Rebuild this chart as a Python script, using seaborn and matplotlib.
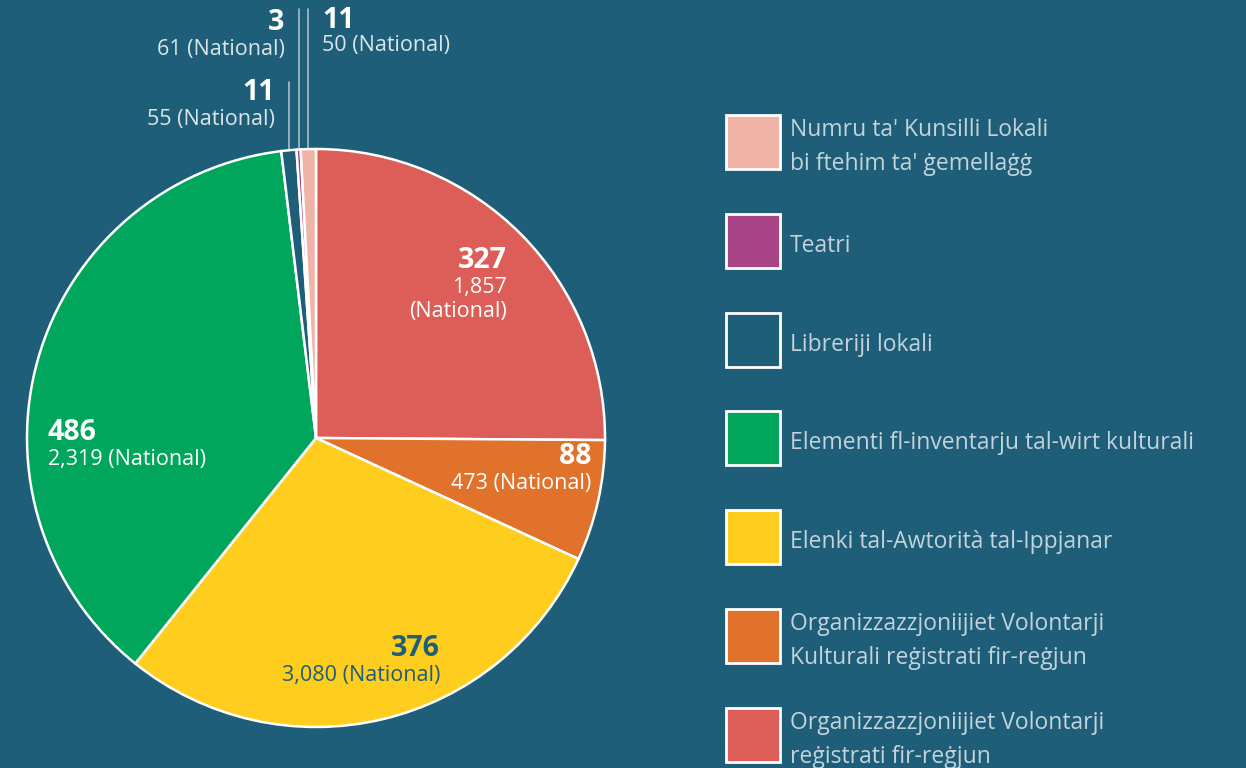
import numpy as np
import matplotlib
matplotlib.use("Agg")
import matplotlib.pyplot as plt
from matplotlib.patches import Rectangle
import seaborn as sns

# dati
categories = [
    "Organizzazzjoniijiet Volontarji\nreġistrati fir-reġjun",
    "Organizzazzjoniijiet Volontarji\nKulturali reġistrati fir-reġjun",
    "Elenki tal-Awtorità tal-Ippjanar",
    "Elementi fl-inventarju tal-wirt kulturali",
    "Libreriji lokali",
    "Teatri",
    "Numru ta' Kunsilli Lokali\nbi ftehim ta' ġemellaġġ",
]
regional = [327, 88, 376, 486, 11, 3, 11]
national = [1857, 473, 3080, 2319, 55, 61, 50]
colours = ["#dd5e58", "#e0722b", "#ffcd1e", "#00a65b", "#1e5e78", "#a84388", "#efb3a8"]

BG = "#1e5e78"
LEGEND_TXT = "#c3d3db"

sns.set_theme(style="white")
plt.rcParams["font.family"] = ["Open Sans", "DejaVu Sans"]

W, H = 1246, 768
CX, CY, R = 316, 438, 289


def px(x, y):
    # pixel -> coordinate dati (raggio = 1)
    return (x - CX) / R, (CY - y) / R


fig = plt.figure(figsize=(W / 100, H / 100), dpi=100, facecolor=BG)
ax = fig.add_axes([0, 0, 1, 1])
ax.set_facecolor(BG)

wedges, _ = ax.pie(
    regional, colors=colours, startangle=90, counterclock=False, radius=1,
    wedgeprops=dict(edgecolor="white", linewidth=1.8),
)
ax.set_xlim(-CX / R, (W - CX) / R)
ax.set_ylim(-(H - CY) / R, CY / R)
ax.axis("off")

NUM_FS = 20.5
SUB_FS = 15.5

# etichette dentro la torta
inside = {
    0: dict(anchor=(507, 260), sub_y=[287, 311], ha="right", col="white",
            sub="{:,}\n(National)"),
    1: dict(anchor=(591, 457), sub_y=[484], ha="right", col="white",
            sub="{:,} (National)"),
    2: dict(anchor=(440, 648), sub_y=[675], ha="right", col=BG,
            sub="{:,} (National)"),
    3: dict(anchor=(48, 433), sub_y=[460], ha="left", col="white",
            sub="{:,} (National)"),
}
for i, cfg in inside.items():
    x, y = px(*cfg["anchor"])
    ax.text(x, y, str(regional[i]), ha=cfg["ha"], va="center", color=cfg["col"],
            fontsize=NUM_FS, fontweight="bold")
    lines = cfg["sub"].format(national[i]).split("\n")
    for ln, yy in zip(lines, cfg["sub_y"]):
        ax.text(x, px(0, yy)[1], ln, ha=cfg["ha"], va="center", color=cfg["col"],
                fontsize=SUB_FS)

# fette piccole: linee guida + etichette sopra
small = {
    4: dict(top=82, num_y=93, sub_y=119, side=-1),
    5: dict(top=9, num_y=23, sub_y=50, side=-1),
    6: dict(top=9, num_y=20, sub_y=46, side=1),
}
for i, cfg in small.items():
    w = wedges[i]
    theta = np.deg2rad((w.theta1 + w.theta2) / 2)
    lx = np.cos(theta)
    ax.plot([lx, lx], [np.sin(theta) * 0.97, px(0, cfg["top"])[1]],
            color="#9fb6c2", lw=1.3, zorder=0.5)
    tx = lx + cfg["side"] * 14 / R
    ha = "left" if cfg["side"] > 0 else "right"
    ax.text(tx, px(0, cfg["num_y"])[1], str(regional[i]), ha=ha, va="center",
            color="white", fontsize=NUM_FS, fontweight="bold")
    ax.text(tx, px(0, cfg["sub_y"])[1], f"{national[i]} (National)", ha=ha,
            va="center", color="#dbe5ea", fontsize=SUB_FS)

# legenda
box = 54 / R
for k, i in enumerate(range(len(categories) - 1, -1, -1)):
    top = 115 + 98.8 * k
    x0, y0 = px(726, top + 54)
    ax.add_patch(Rectangle((x0, y0), box, box, facecolor=colours[i],
                           edgecolor="white", lw=2, zorder=3))
    tx, ty = px(790, top + 32)
    ax.text(tx, ty, categories[i], ha="left", va="center", color=LEGEND_TXT,
            fontsize=16.5, linespacing=1.55)

fig.savefig("out.png", dpi=100, facecolor=BG)
